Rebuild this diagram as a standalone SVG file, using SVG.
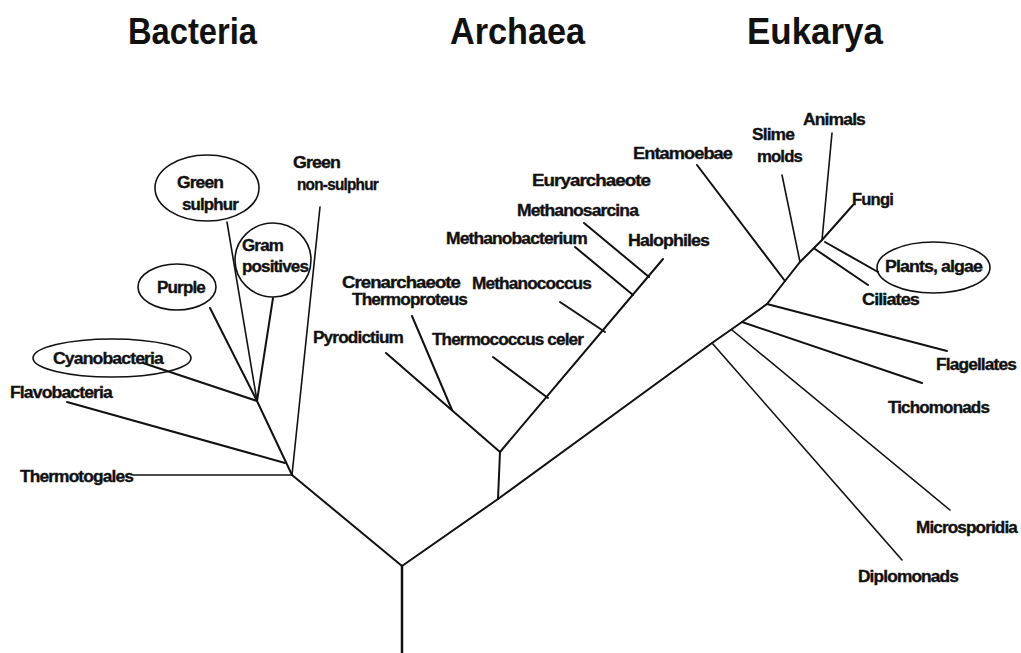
<svg xmlns="http://www.w3.org/2000/svg" width="1021" height="653" viewBox="0 0 1021 653">
<style>
.t{font-family:"Liberation Sans",Arial,sans-serif;font-weight:bold;font-size:16px;fill:#111;stroke:#111;stroke-width:0.35;letter-spacing:-0.8px}
.h{font-family:"Liberation Sans",Arial,sans-serif;font-weight:bold;font-size:37px;fill:#111}
.e{fill:none;stroke:#111;stroke-width:1.6}
#connectors line,#connectors polyline{stroke:#111;stroke-width:2;fill:none;stroke-linecap:round}
</style>
<rect width="1021" height="653" fill="#fff"/>
<g id="titles">
<text class="h" x="128" y="44" textLength="129" lengthAdjust="spacingAndGlyphs">Bacteria</text>
<text class="h" x="450" y="44" textLength="135" lengthAdjust="spacingAndGlyphs">Archaea</text>
<text class="h" x="747" y="44" textLength="136" lengthAdjust="spacingAndGlyphs">Eukarya</text>
</g>
<g id="connectors">
<line x1="402" y1="566" x2="402" y2="653" style="stroke-width:2.5"/>
<line x1="402" y1="566" x2="292" y2="475"/>
<line x1="402" y1="566" x2="498" y2="499"/>
<line x1="498" y1="499" x2="500" y2="452"/>
<polyline points="498,499 712,343 742,322 767,304 785,281 800,262 822,240 853,205"/>
<line x1="712" y1="343" x2="902" y2="560" style="stroke-width:1.6"/>
<line x1="732" y1="330" x2="950" y2="510" style="stroke-width:1.6"/>
<line x1="742" y1="322" x2="922" y2="383"/>
<line x1="767" y1="304" x2="947" y2="351"/>
<line x1="785" y1="281" x2="697" y2="165"/>
<line x1="800" y1="262" x2="782" y2="175" style="stroke-width:1.6"/>
<line x1="815" y1="249" x2="868" y2="285"/>
<line x1="825" y1="242" x2="878" y2="272"/>
<line x1="822" y1="240" x2="832" y2="133" style="stroke-width:1.6"/>
<line x1="500" y1="452" x2="386" y2="353"/>
<line x1="452" y1="410" x2="412" y2="316"/>
<line x1="500" y1="452" x2="663" y2="259"/>
<line x1="548" y1="398" x2="493" y2="357"/>
<line x1="605" y1="332" x2="560" y2="302"/>
<line x1="633" y1="295" x2="575" y2="247"/>
<line x1="649" y1="277" x2="584" y2="223"/>
<line x1="292" y1="475" x2="133" y2="475" style="stroke-width:1.6"/>
<line x1="292" y1="475" x2="320" y2="207" style="stroke-width:1.6"/>
<line x1="292" y1="475" x2="257" y2="401"/>
<line x1="285" y1="463" x2="67" y2="402"/>
<line x1="257" y1="401" x2="143" y2="363"/>
<line x1="257" y1="401" x2="210" y2="308"/>
<line x1="257" y1="401" x2="227" y2="222" style="stroke-width:1.6"/>
<line x1="257" y1="401" x2="273" y2="298"/>
</g>
<g id="bacteria">
<g id="thermotogales"><text class="t" x="20" y="482" textLength="113" lengthAdjust="spacingAndGlyphs">Thermotogales</text></g>
<g id="flavobacteria"><text class="t" x="10" y="398" textLength="102" lengthAdjust="spacingAndGlyphs">Flavobacteria</text></g>
<g id="cyanobacteria"><ellipse class="e" cx="112" cy="358" rx="79" ry="19"/><text class="t" x="53" y="364" textLength="110" lengthAdjust="spacingAndGlyphs">Cyanobacteria</text></g>
<g id="purple"><ellipse class="e" cx="177" cy="287" rx="39" ry="23"/><text class="t" x="157" y="293" textLength="48" lengthAdjust="spacingAndGlyphs">Purple</text></g>
<g id="green-sulphur"><ellipse class="e" cx="207" cy="188" rx="52" ry="33"/><text class="t" x="177" y="188" textLength="46" lengthAdjust="spacingAndGlyphs">Green</text><text class="t" x="182" y="210" textLength="56" lengthAdjust="spacingAndGlyphs">sulphur</text></g>
<g id="gram-positives"><ellipse class="e" cx="273" cy="260" rx="38" ry="37"/><text class="t" x="242" y="251" textLength="41" lengthAdjust="spacingAndGlyphs">Gram</text><text class="t" x="242" y="272" textLength="66" lengthAdjust="spacingAndGlyphs">positives</text></g>
<g id="green-non-sulphur"><text class="t" x="293" y="168" textLength="47" lengthAdjust="spacingAndGlyphs">Green</text><text class="t" x="297" y="190" textLength="81" lengthAdjust="spacingAndGlyphs">non-sulphur</text></g>
</g>
<g id="archaea">
<g id="pyrodictium"><text class="t" x="313" y="343" textLength="90" lengthAdjust="spacingAndGlyphs">Pyrodictium</text></g>
<g id="crenarchaeote"><text class="t" x="342" y="288" textLength="118" lengthAdjust="spacingAndGlyphs">Crenarchaeote</text><text class="t" x="352" y="305" textLength="115" lengthAdjust="spacingAndGlyphs">Thermoproteus</text></g>
<g id="thermococcus"><text class="t" x="432" y="345" textLength="151" lengthAdjust="spacingAndGlyphs">Thermococcus celer</text></g>
<g id="methanococcus"><text class="t" x="472" y="289" textLength="119" lengthAdjust="spacingAndGlyphs">Methanococcus</text></g>
<g id="methanobacterium"><text class="t" x="446" y="244" textLength="141" lengthAdjust="spacingAndGlyphs">Methanobacterium</text></g>
<g id="methanosarcina"><text class="t" x="517" y="216" textLength="121" lengthAdjust="spacingAndGlyphs">Methanosarcina</text></g>
<g id="euryarchaeote"><text class="t" x="532" y="186" textLength="118" lengthAdjust="spacingAndGlyphs">Euryarchaeote</text></g>
<g id="halophiles"><text class="t" x="628" y="246" textLength="81" lengthAdjust="spacingAndGlyphs">Halophiles</text></g>
</g>
<g id="eukarya">
<g id="entamoebae"><text class="t" x="633" y="159" textLength="99" lengthAdjust="spacingAndGlyphs">Entamoebae</text></g>
<g id="slime-molds"><text class="t" x="752" y="140" textLength="42" lengthAdjust="spacingAndGlyphs">Slime</text><text class="t" x="757" y="162" textLength="45" lengthAdjust="spacingAndGlyphs">molds</text></g>
<g id="animals"><text class="t" x="803" y="125" textLength="62" lengthAdjust="spacingAndGlyphs">Animals</text></g>
<g id="fungi"><text class="t" x="852" y="205" textLength="41" lengthAdjust="spacingAndGlyphs">Fungi</text></g>
<g id="plants"><ellipse class="e" cx="933.5" cy="267.5" rx="56.5" ry="25.5"/><text class="t" x="885" y="272" textLength="97" lengthAdjust="spacingAndGlyphs">Plants, algae</text></g>
<g id="ciliates"><text class="t" x="862" y="305" textLength="57" lengthAdjust="spacingAndGlyphs">Ciliates</text></g>
<g id="flagellates"><text class="t" x="936" y="370" textLength="80" lengthAdjust="spacingAndGlyphs">Flagellates</text></g>
<g id="tichomonads"><text class="t" x="888" y="413" textLength="101" lengthAdjust="spacingAndGlyphs">Tichomonads</text></g>
<g id="microsporidia"><text class="t" x="916" y="533" textLength="101" lengthAdjust="spacingAndGlyphs">Microsporidia</text></g>
<g id="diplomonads"><text class="t" x="858" y="582" textLength="100" lengthAdjust="spacingAndGlyphs">Diplomonads</text></g>
</g>
</svg>
